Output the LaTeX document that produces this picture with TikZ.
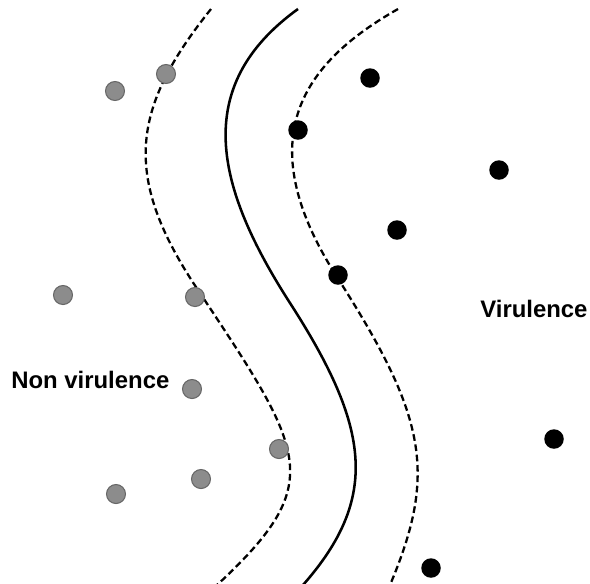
\documentclass[tikz,border=0pt]{standalone}
\usepackage{fontspec}
\setmainfont{Liberation Sans}
\usepackage{tikz}
\usetikzlibrary{positioning}

\begin{document}
\begin{tikzpicture}[
    x=0.02cm, y=-0.02cm,
    gdot/.style={circle, draw=black!60, fill=black!45, line width=0.6pt, minimum size=0.38cm, inner sep=0pt},
    bdot/.style={circle, fill=black, minimum size=0.39cm, inner sep=0pt},
    margin/.style={line width=1.3pt, dash pattern=on 3.8pt off 2.1pt},
    hyper/.style={line width=1.45pt},
    lbl/.style={font=\fontsize{13.6}{16}\selectfont\bfseries, inner sep=0pt}
]
\useasboundingbox (0,0) rectangle (590,583);

% boundaries
\draw[margin] (211,9) .. controls (130,110) and (122,178) .. (200,293)
                      .. controls (306,453) and (327,483) .. (217,585);
\draw[hyper] (298,9) .. controls (190,87) and (216,188) .. (290,303)
                     .. controls (370.6,428) and (379.5,498) .. (303,585);
\draw[margin] (398,9) .. controls (304.5,62) and (247.4,137) .. (337,277)
                      .. controls (426.6,417) and (437.3,473) .. (390,585);

% non virulent samples
\node[gdot] (g1) at (115,91) {};
\node[gdot] (g2) at (166,74) {};
\node[gdot] (g3) at (63,295) {};
\node[gdot] (g4) at (195,297) {};
\node[gdot] (g5) at (192,389) {};
\node[gdot] (g6) at (279,449) {};
\node[gdot] (g7) at (201,479) {};
\node[gdot] (g8) at (116,494) {};

% virulent samples
\node[bdot] (b1) at (370,78) {};
\node[bdot] (b2) at (298,130) {};
\node[bdot] (b3) at (499,170) {};
\node[bdot] (b4) at (397,230) {};
\node[bdot] (b5) at (338,275) {};
\node[bdot] (b6) at (554,439) {};
\node[bdot] (b7) at (431,568) {};

\node[lbl, anchor=west] (vir) at (480,309) {Virulence};
\node[lbl, anchor=west] (nonvir) at (11,380) {Non virulence};
\end{tikzpicture}
\end{document}
